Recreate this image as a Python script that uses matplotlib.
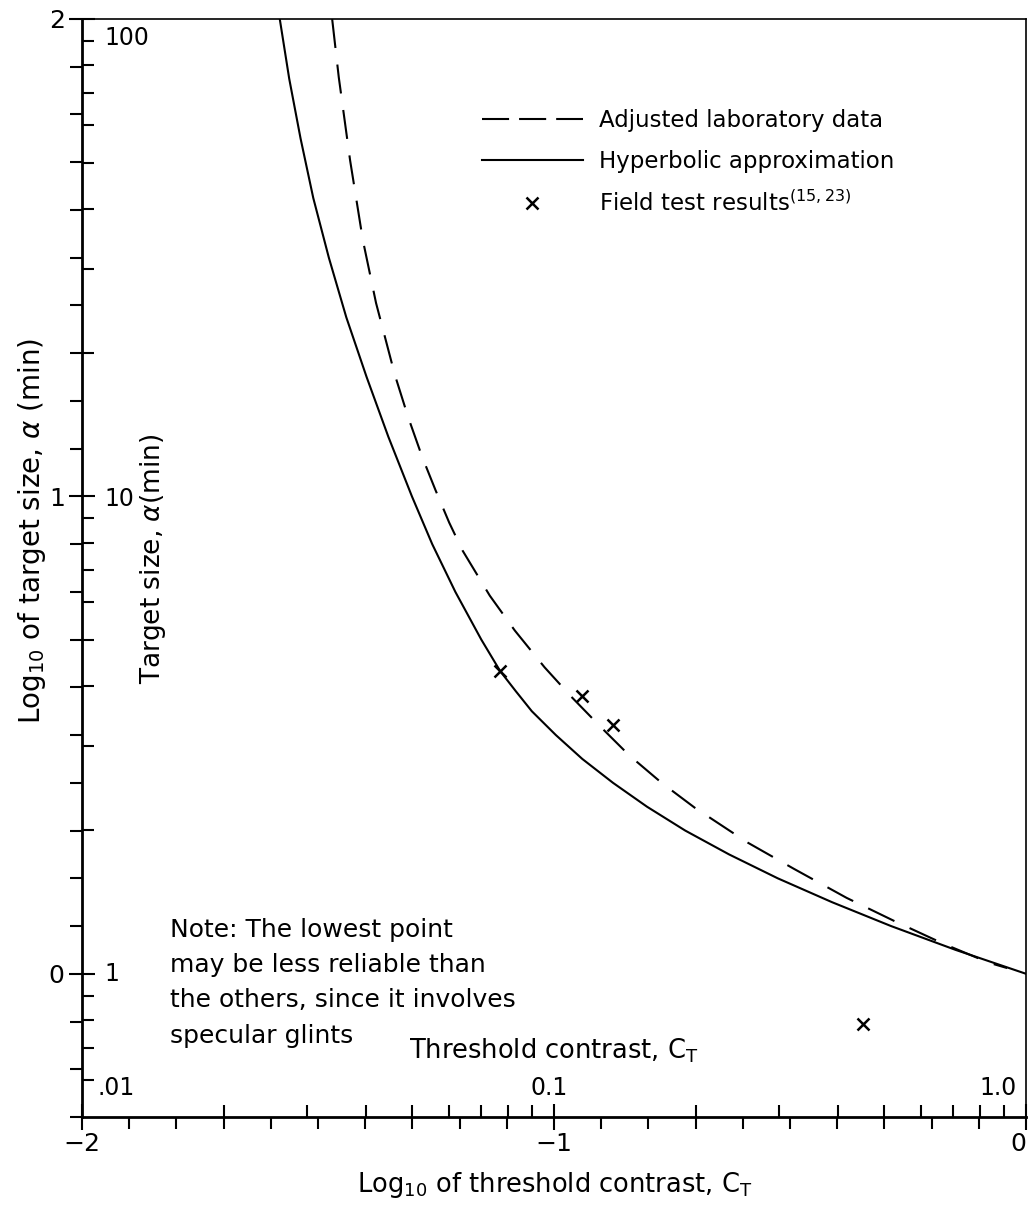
import numpy as np
import matplotlib.pyplot as plt
from matplotlib.lines import Line2D

plt.rcParams['font.family'] = ['DejaVu Sans']
plt.rcParams['mathtext.fontset'] = 'dejavusans'

# values (log10 of threshold contrast, log10 of target size)
hyp_x = [-1.581, -1.561, -1.537, -1.51, -1.477, -1.44, -1.397, -1.351, -1.301, -1.258,
         -1.209, -1.154, -1.114, -1.081, -1.047, -0.996, -0.94, -0.875, -0.803, -0.722,
         -0.629, -0.526, -0.411, -0.286, -0.149, 0.0]
hyp_y = [2.0, 1.875, 1.75, 1.625, 1.5, 1.375, 1.25, 1.125, 1.0, 0.9,
         0.8, 0.7, 0.634, 0.592, 0.55, 0.5, 0.45, 0.4, 0.35, 0.3,
         0.25, 0.2, 0.15, 0.1, 0.05, 0.0]

lab_x = [-1.470, -1.456, -1.432, -1.405, -1.377, -1.337, -1.309, -1.279, -1.251, -1.222,
         -1.194, -1.136, -1.083, -1.02, -0.963, -0.90, -0.84, -0.772, -0.702, -0.59,
         -0.492, -0.38, -0.28, -0.175, -0.078, -0.04]
lab_y = [2.0, 1.878, 1.704, 1.537, 1.405, 1.254, 1.166, 1.082, 1.013, 0.945,
         0.887, 0.792, 0.719, 0.642, 0.58, 0.516, 0.457, 0.400, 0.348, 0.275,
         0.220, 0.159, 0.111, 0.063, 0.023, 0.012]

field_x = [-1.114, -0.941, -0.876, -0.345]
field_y = [0.634, 0.581, 0.521, -0.105]

contrast_labels = ['.01', '0.1', '1.0']
contrast_values = [0.01, 0.1, 1.0]
size_labels = ['1', '10', '100']
size_values = [1, 10, 100]

note_lines = ['Note: The lowest point', 'may be less reliable than',
              'the others, since it involves', 'specular glints']

xmin, xmax = -2, 0
ymin, ymax = -0.3, 2

fig = plt.figure(figsize=(10.29, 12.10), dpi=100)
pos = [82 / 1029, 1 - 1117 / 1210, 944 / 1029, 1098 / 1210]
ax = fig.add_axes(pos)

ax.plot(lab_x, lab_y, color='black', lw=1.5, dashes=(14, 8))
ax.plot(hyp_x, hyp_y, color='black', lw=1.5)
ax.plot(field_x, field_y, ls='none', marker='x', color='black', ms=9, mew=1.8)

ax.set_xlim(xmin, xmax)
ax.set_ylim(ymin, ymax)

# outer scale: log10 values
ax.set_xticks([-2, -1, 0])
xlabs = ax.set_xticklabels(['\u22122', '\u22121', '0'])
xlabs[-1].set_ha('right')  # keep the last label inside the figure
ax.set_yticks([0, 1, 2])
ax.set_yticklabels(['0', '1', '2'])
xm = np.round(np.arange(-2, 0.001, 0.1), 2)
ym = np.round(np.arange(-0.3, 2.001, 0.1), 2)
ax.set_xticks([v for v in xm if v != round(v)], minor=True)
ax.set_yticks([v for v in ym if v != round(v)], minor=True)
ax.tick_params(which='major', direction='inout', length=19, width=1.5, labelsize=18)
ax.tick_params(axis='x', which='major', pad=1)
ax.tick_params(axis='y', which='major', pad=3)
ax.tick_params(which='minor', direction='out', length=8.5, width=1.5)

for side in ['left', 'bottom']:
    ax.spines[side].set_linewidth(2)
for side in ['top', 'right']:
    ax.spines[side].set_linewidth(1.2)

# inner scale: actual contrast and target size
ax2 = fig.add_axes(pos, frameon=False)
ax2.set_xlim(xmin, xmax)
ax2.set_ylim(ymin, ymax)
cvals = [k * 10.0 ** n for n in (-2, -1) for k in range(2, 10)]
svals = [k * 10.0 ** n for n in (-1, 0, 1) for k in range(2, 10)]
ax2.set_xticks(np.log10(cvals))
ax2.set_yticks([v for v in np.log10(svals) if ymin < v < ymax])
ax2.set_xticklabels([])
ax2.set_yticklabels([])
ax2.tick_params(direction='in', length=8.5, width=1.5)

for lab, v, ha, dx in zip(contrast_labels, contrast_values, ['left', 'center', 'right'], [15, -5, -9]):
    ax.annotate(lab, (np.log10(v), ymin), xytext=(dx, 29), textcoords='offset pixels',
                ha=ha, va='center', fontsize=17)
for lab, v, dy in zip(size_labels, size_values, [0, -3, -19]):
    ax.annotate(lab, (xmin, np.log10(v)), xytext=(22, dy), textcoords='offset pixels',
                ha='left', va='center', fontsize=17)

ax.set_xlabel('Log$_{10}$ of threshold contrast, C$_\\mathrm{T}$', fontsize=18.5)
ax.xaxis.set_label_coords(0.501, -0.048)
ax.set_ylabel('Log$_{10}$ of target size, $\\alpha$ (min)', fontsize=20)
ax.yaxis.set_label_coords(-0.036, 0.534)

ax.text(-1.849, 0.870, 'Target size, $\\alpha$(min)', rotation=90,
        ha='center', va='center', fontsize=19)
ax.text(-1.0, -0.161, 'Threshold contrast, C$_\\mathrm{T}$', ha='center', va='center',
        fontsize=18.5)
for i, line in enumerate(note_lines):
    ax.annotate(line, (-1.814, 0.0776), xytext=(0, -35.3 * i), textcoords='offset pixels',
                ha='left', va='baseline', fontsize=18)

handles = [Line2D([], [], color='black', lw=1.5, dashes=(13, 4.8)),
           Line2D([], [], color='black', lw=1.5),
           Line2D([], [], ls='none', marker='x', color='black', ms=9, mew=1.8)]
ax.legend(handles, ['Adjusted laboratory data', 'Hyperbolic approximation',
                    'Field test results$^{(15,23)}$'],
          loc='upper left', bbox_to_anchor=(482 / 1029, 1 - 109 / 1210),
          bbox_transform=fig.transFigure, frameon=False, fontsize=16.5,
          handlelength=4.4, handletextpad=0.7, labelspacing=0.78,
          borderpad=0, borderaxespad=0)

fig.savefig('out.png', dpi=100)
